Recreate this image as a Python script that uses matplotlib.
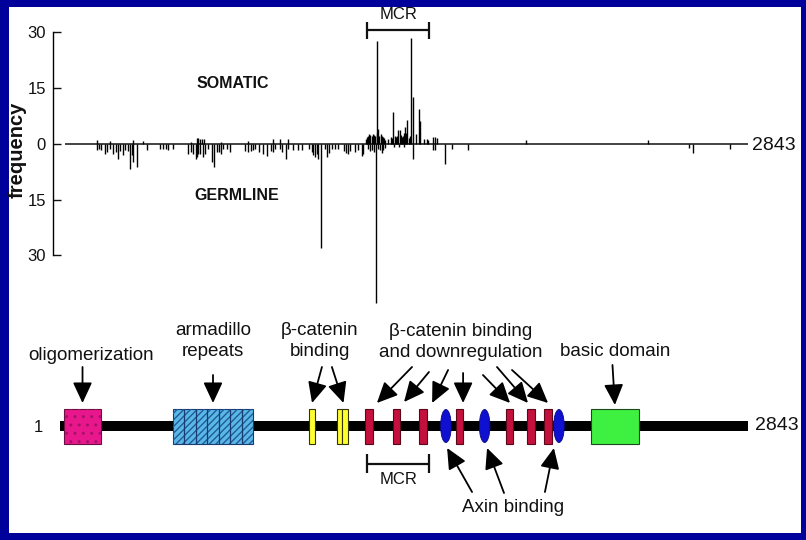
import numpy as np
import matplotlib
matplotlib.use("Agg")
import matplotlib.pyplot as plt
from matplotlib.patches import Rectangle, Ellipse

plt.rcParams["font.family"] = ["Liberation Sans", "DejaVu Sans"]

# ---- mutation frequencies (codon, count) ----
som_codon = [155, 208, 304, 345, 542, 568, 572, 579, 588, 596, 666, 779, 882, 910, 944,
             1265, 1269, 1273, 1278, 1283, 1289, 1293, 1297, 1302, 1309, 1312, 1316, 1320,
             1326, 1330, 1336, 1341, 1345, 1357, 1368, 1372, 1378, 1383, 1389, 1394, 1398,
             1405, 1410, 1414, 1418, 1422, 1426, 1431, 1436, 1441, 1445, 1450, 1461, 1470,
             1485, 1490, 1504, 1517, 1522, 1540, 1550, 1558, 1926, 2431]
som_freq = [0.9, 0.6, 0.9, 0.6, 0.5, 1.6, 1.6, 1.3, 1.3, 1.3, 0.5, 0.8, 1.3, 1.3, 1.3,
            1.2, 1.8, 2.2, 2.7, 2.4, 2.0, 2.6, 2.3, 2.0, 27.6, 3.0, 4.0, 2.2,
            2.7, 2.0, 1.8, 1.5, 1.0, 1.2, 1.8, 1.6, 8.5, 2.0, 1.8, 2.2, 3.6,
            3.7, 2.4, 1.8, 2.0, 2.8, 4.5, 3.0, 6.4, 1.6, 2.0, 28.4, 12.5, 2.7,
            9.4, 6.2, 1.3, 1.3, 1.0, 1.8, 1.8, 1.5, 0.9, 0.9]

germ_codon = [155, 163, 169, 187, 194, 208, 221, 232, 242, 249, 260, 270, 283, 290, 297,
              304, 320, 362, 414, 425, 439, 448, 469, 531, 542, 552, 561, 568, 572, 581,
              593, 600, 611, 628, 638, 648, 658, 666, 676, 690, 703, 765, 779, 790, 799,
              806, 824, 841, 855, 873, 882, 889, 910, 917, 934, 944, 965, 985, 1002, 1031,
              1041, 1048, 1054, 1061, 1068, 1079, 1095, 1105, 1112, 1123, 1137, 1150, 1174,
              1182, 1192, 1199, 1219, 1233, 1247, 1251, 1273, 1281, 1289, 1296, 1305, 1314,
              1322, 1330, 1336, 1345, 1380, 1400, 1420, 1460, 1540, 1550, 1591, 1622, 1686,
              2598, 2616, 2768]
germ_freq = [1.8, 1.3, 1.8, 2.7, 2.2, 1.3, 2.7, 2.2, 4.0, 2.0, 3.1, 1.8, 2.0, 6.7, 3.1,
             4.8, 6.2, 1.8, 1.3, 1.3, 1.3, 1.8, 1.3, 2.7, 2.1, 2.7, 4.0, 3.5, 2.7, 2.7,
             3.5, 2.7, 1.3, 4.8, 6.2, 2.1, 2.1, 2.7, 1.3, 1.3, 2.1, 1.9, 2.1, 1.9, 1.6,
             1.3, 2.1, 2.7, 3.2, 1.9, 2.1, 1.3, 1.3, 2.1, 4.0, 1.3, 1.8, 1.6, 1.6, 1.3,
             2.1, 3.0, 3.5, 2.7, 4.0, 28.1, 1.3, 3.7, 2.5, 1.3, 1.3, 1.3, 2.0,
             2.4, 2.7, 2.0, 2.1, 1.6, 3.2, 2.7, 1.5, 1.9, 1.8, 2.2, 42.9, 1.4,
             1.8, 2.4, 1.8, 1.2, 0.8, 1.0, 0.8, 4.0, 1.8, 1.8, 5.4, 1.4, 1.6,
             1.2, 2.5, 1.5]

protein_len = 2843
mcr = (1270, 1527)
yticks = [-30, -15, 0, 15, 30]

# ---- protein domains (codon ranges as drawn) ----
oligo = (18, 170)
armadillo = (468, 798)
arm_repeats = 7
bcat15 = [(1030, 1054), (1145, 1166), (1166, 1191)]
bcat20 = [(1261, 1294), (1377, 1405), (1484, 1517), (1637, 1666),
          (1843, 1872), (1930, 1963), (2000, 2033)]
axin = [1595, 1755, 2062]
basic = (2194, 2392)

# arrows: (tail x, tail y, tip x, tip y) in diagram units
bcat20_arrows = [(1455, 59, 1310, 23), (1525, 54, 1422, 24), (1604, 56, 1538, 23),
                 (1666, 53, 1666, 23), (1748, 51, 1860, 23), (1806, 59, 1934, 23),
                 (1868, 56, 2017, 23)]
bcat15_arrows = [(1083, 59, 1042, 23), (1124, 59, 1172, 23)]
axin_arrows = [(1703, -66, 1600, -22), (1835, -67, 1765, -22), (2004, -66, 2041, -22)]

# ---- layout: px -> codon mapping shared by both panels ----
px_per_codon = 0.2421
xlim = (1 - 60 / px_per_codon, 1 + 746 / px_per_codon)
ink = "#111111"
narrow = ["Liberation Sans Narrow", "Liberation Sans", "DejaVu Sans"]

fig = plt.figure(figsize=(8.06, 5.40), dpi=100)
fig.patch.set_facecolor("#00009a")
fig.patches.append(Rectangle((9 / 806, 7 / 540), 792 / 806, 526 / 540,
                             transform=fig.transFigure, facecolor="white",
                             edgecolor="none", zorder=-5))

# ---------------- top: mutation frequency ----------------
ax = fig.add_axes([0, 230 / 540, 1, 310 / 540])
ax.patch.set_visible(False)
ax.set_xlim(*xlim)
ax.set_ylim(-44.67, 38.6)
for s in ["top", "right", "bottom"]:
    ax.spines[s].set_visible(False)
ax.spines["left"].set_position(("data", -28))
ax.spines["left"].set_bounds(-30, 30)
ax.spines["left"].set_linewidth(1.0)
ax.set_xticks([])
ax.set_yticks(yticks)
ax.set_yticklabels([str(abs(t)) for t in yticks])
ax.tick_params(axis="y", direction="in", length=6, width=1.0, pad=5,
               labelsize=12, colors=ink)

ax.hlines(0, 22, protein_len, color=ink, lw=1.1)
ax.vlines(som_codon, 0, som_freq, color="black", lw=1.0)
ax.vlines(germ_codon, 0, -np.array(germ_freq), color="black", lw=1.0)

ax.text(2859, -0.5, str(protein_len), ha="left", va="center", fontsize=14, color=ink)
ax.text(716, 16.3, "SOMATIC", ha="center", va="center", fontsize=11.5,
        fontweight="bold", color=ink)
ax.text(732, -13.9, "GERMLINE", ha="center", va="center", fontsize=11.5,
        fontweight="bold", color=ink)
ax.text(-177, -1.6, "frequency", rotation=90, ha="center", va="center",
        fontsize=14.5, fontweight="bold", color=ink)

# MCR bracket (top)
ax.hlines(30.5, mcr[0], mcr[1], color=ink, lw=1.6)
ax.vlines(mcr, 28.0, 32.8, color=ink, lw=1.6)
ax.text(sum(mcr) / 2, 34.6, "MCR", ha="center", va="center", fontsize=12,
        family=narrow, color=ink)

# ---------------- bottom: APC protein domains ----------------
bx = fig.add_axes([0, 0, 1, 230 / 540])
bx.patch.set_visible(False)
bx.set_xlim(*xlim)
bx.set_ylim(-114, 116)
bx.axis("off")

bh = 17.5  # half height of domain boxes
bx.add_patch(Rectangle((1, -5), protein_len - 1, 10, facecolor="black",
                       edgecolor="none", zorder=1))

# oligomerization (dotted magenta)
bx.add_patch(Rectangle((oligo[0], -bh), oligo[1] - oligo[0], 2 * bh,
                       facecolor="#e8188c", edgecolor="#6a1040", lw=0.8, zorder=2))
bx.add_patch(Rectangle((oligo[0], -bh), oligo[1] - oligo[0], 2 * bh,
                       facecolor="none", edgecolor="#a8106a", lw=0, hatch="..", zorder=3))

# armadillo repeats (hatched light blue)
bx.add_patch(Rectangle((armadillo[0], -bh), armadillo[1] - armadillo[0], 2 * bh,
                       facecolor="#5ab8e6", edgecolor="#1a3a70", lw=0.8, zorder=2))
bx.add_patch(Rectangle((armadillo[0], -bh), armadillo[1] - armadillo[0], 2 * bh,
                       facecolor="none", edgecolor="#1e5a9a", lw=0, hatch="/////", zorder=3))
arm_edges = np.linspace(armadillo[0], armadillo[1], arm_repeats + 1)[1:-1]
bx.vlines(arm_edges, -bh, bh, color="#1a3a70", lw=0.9, zorder=4)

for a, b in bcat15:
    bx.add_patch(Rectangle((a, -bh), b - a, 2 * bh, facecolor="#ffff30",
                           edgecolor="#333300", lw=0.8, zorder=2))
for a, b in bcat20:
    bx.add_patch(Rectangle((a, -bh), b - a, 2 * bh, facecolor="#c4103c",
                           edgecolor="#5a0818", lw=0.8, zorder=2))
for c in axin:
    bx.add_patch(Ellipse((c, 0), 44, 33, facecolor="#1010d0",
                         edgecolor="#0a0a80", lw=0.6, zorder=2))
bx.add_patch(Rectangle((basic[0], -bh), basic[1] - basic[0], 2 * bh,
                       facecolor="#3ef040", edgecolor="#1a4a1a", lw=0.8, zorder=2))

bx.text(-90, -2, "1", ha="center", va="center", fontsize=12, color=ink)
bx.text(2872, 1, str(protein_len), ha="left", va="center", fontsize=14, color=ink)

arrow_kw = dict(arrowstyle="-|>,head_length=0.6,head_width=0.28", color="black",
                lw=1.3, mutation_scale=21, shrinkA=0, shrinkB=0)


def arrow(x0, y0, x1, y1):
    bx.annotate("", xy=(x1, y1), xytext=(x0, y0), arrowprops=arrow_kw, zorder=5)


lab = dict(ha="center", va="center", fontsize=13.5, color=ink, linespacing=1.3)
ocx = sum(oligo) / 2
bx.text(ocx + 35, 70, "oligomerization", **lab)
arrow(ocx, 59, ocx, 23)

acx = sum(armadillo) / 2
bx.text(acx, 85, "armadillo\nrepeats", **lab)
arrow(acx, 51, acx, 23)

bx.text(1075, 85, "\u03b2-catenin\nbinding", **lab)
for a in bcat15_arrows:
    arrow(*a)

bx.text(1655, 84, "\u03b2-catenin binding\nand downregulation", **lab)
for a in bcat20_arrows:
    arrow(*a)

bcx = sum(basic) / 2
bx.text(bcx, 74, "basic domain", **lab)
arrow(bcx - 10, 61, bcx, 21)

bx.text(1872, -81, "Axin binding", **lab)
for a in axin_arrows:
    arrow(*a)

# MCR bracket (bottom)
bx.hlines(-38, mcr[0], mcr[1], color=ink, lw=1.6)
bx.vlines(mcr, -47, -28, color=ink, lw=1.6)
bx.text(sum(mcr) / 2, -54, "MCR", ha="center", va="center", fontsize=12,
        family=narrow, color=ink)

fig.savefig("out.png", dpi=100, facecolor=fig.get_facecolor())
